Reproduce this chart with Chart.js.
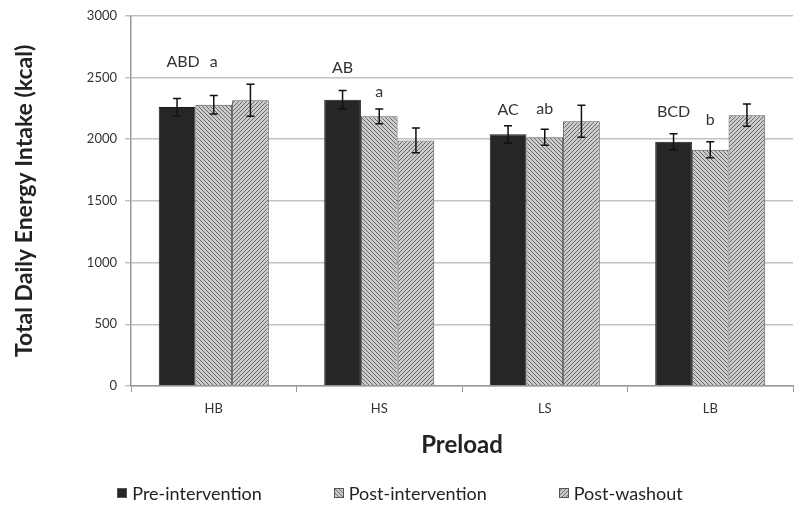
<!DOCTYPE html>
<html><head><meta charset="utf-8">
<script src="https://cdn.jsdelivr.net/npm/chart.js@4/dist/chart.umd.min.js"></script>
<style>
html,body{margin:0;padding:0;background:#fff;}
#wrap{position:relative;width:800px;height:515px;overflow:hidden;}
#legend{position:absolute;left:0;top:482px;width:800px;display:flex;justify-content:center;gap:72px;font-family:Lato,"Open Sans",sans-serif;font-size:18px;color:#222;}
.item{display:flex;align-items:center;white-space:nowrap;}
.item canvas{width:10px;height:10px;margin-right:5px;}
</style>
</head><body>
<div id="wrap">
<canvas id="c" width="800" height="515"></canvas>
<div id="legend"></div>
</div>
<script>
const categories = ['HB', 'HS', 'LS', 'LB'];
const seriesNames = ['Pre-intervention', 'Post-intervention', 'Post-washout'];
const preValues = [2260, 2320, 2040, 1980];
const postValues = [2280, 2185, 2015, 1915];
const washoutValues = [2315, 1990, 2145, 2195];
const preErrors = [70, 75, 70, 65];
const postErrors = [75, 60, 65, 65];
const washoutErrors = [130, 100, 130, 90];
const preLetters = ['ABD', 'AB', 'AC', 'BCD'];
const postLetters = ['a', 'a', 'ab', 'b'];
const preLetterValues = [2625, 2577, 2234, 2218];
const postLetterValues = [2625, 2386, 2250, 2154];
const yMax = 3000;
const yStep = 500;

function makePattern(dir) {
  const s = 4;
  const c = document.createElement('canvas');
  c.width = s; c.height = s;
  const g = c.getContext('2d');
  g.fillStyle = '#cbcbcb';
  g.fillRect(0, 0, s, s);
  g.strokeStyle = '#6a6a6a';
  g.lineWidth = 1;
  g.beginPath();
  if (dir === 'back') {
    g.moveTo(0, 0); g.lineTo(s, s);
    g.moveTo(-1, s - 1); g.lineTo(1, s + 1);
    g.moveTo(s - 1, -1); g.lineTo(s + 1, 1);
  } else {
    g.moveTo(0, s); g.lineTo(s, 0);
    g.moveTo(-1, 1); g.lineTo(1, -1);
    g.moveTo(s - 1, s + 1); g.lineTo(s + 1, s - 1);
  }
  g.stroke();
  return c;
}
const ctx = document.getElementById('c').getContext('2d');
const backPat = ctx.createPattern(makePattern('back'), 'repeat');
const fwdPat = ctx.createPattern(makePattern('fwd'), 'repeat');
const fills = ['#262626', backPat, fwdPat];
const valueSets = [preValues, postValues, washoutValues];
const errorSets = [preErrors, postErrors, washoutErrors];

const annotPlugin = {
  id: 'annot',
  afterDatasetsDraw(chart) {
    const c = chart.ctx;
    const y = chart.scales.y;
    c.save();
    c.strokeStyle = '#111';
    c.lineWidth = 1.5;
    chart.data.datasets.forEach((ds, di) => {
      const meta = chart.getDatasetMeta(di);
      meta.data.forEach((bar, i) => {
        const v = ds.data[i], e = errorSets[di][i];
        const yt = y.getPixelForValue(v + e), yb = y.getPixelForValue(v - e);
        c.beginPath();
        c.moveTo(bar.x, yt); c.lineTo(bar.x, yb);
        c.moveTo(bar.x - 4, yt); c.lineTo(bar.x + 4, yt);
        c.moveTo(bar.x - 4, yb); c.lineTo(bar.x + 4, yb);
        c.stroke();
      });
    });
    c.fillStyle = '#333';
    c.font = '16px Lato, "Open Sans", sans-serif';
    c.textAlign = 'center';
    c.textBaseline = 'middle';
    const m0 = chart.getDatasetMeta(0), m1 = chart.getDatasetMeta(1);
    categories.forEach((cat, i) => {
      c.fillText(preLetters[i], m0.data[i].x + (i === 0 ? 6 : 0), y.getPixelForValue(preLetterValues[i]));
      c.fillText(postLetters[i], m1.data[i].x, y.getPixelForValue(postLetterValues[i]));
    });
    c.restore();
  }
};

new Chart(ctx, {
  type: 'bar',
  data: {
    labels: categories,
    datasets: seriesNames.map((name, k) => ({
      label: name,
      data: valueSets[k],
      backgroundColor: fills[k],
      borderColor: k === 0 ? '#1a1a1a' : '#555',
      borderWidth: 1,
      categoryPercentage: 0.665,
      barPercentage: 1.0
    }))
  },
  options: {
    responsive: false,
    animation: false,
    layout: { padding: { top: 10, right: 7, bottom: 49, left: 0 } },
    plugins: { legend: { display: false }, tooltip: { enabled: false } },
    scales: {
      x: {
        grid: { drawOnChartArea: false, drawTicks: true, tickLength: 6, color: '#999' },
        border: { color: '#999', width: 1.5 },
        ticks: { font: { family: 'Lato', size: 13 }, color: '#333', padding: 9 },
        title: { display: true, text: 'Preload', font: { family: 'Lato', size: 24, weight: 'bold' }, color: '#222', padding: { top: 10, bottom: 6 } },
        afterFit(scale) { scale.height = 80; }
      },
      y: {
        min: 0, max: yMax,
        ticks: { stepSize: yStep, font: { family: 'Lato', size: 13 }, color: '#333', padding: 8, callback: v => String(v) },
        grid: { color: '#c2c2c2', lineWidth: 1.5, tickLength: 6 },
        border: { color: '#999', width: 1.5 },
        title: { display: true, text: 'Total Daily Energy Intake (kcal)', font: { family: 'Lato', size: 23, weight: 'bold' }, color: '#222', padding: { top: 11, bottom: 0 } },
        afterFit(scale) { scale.width = 131; }
      }
    }
  },
  plugins: [annotPlugin]
});

const leg = document.getElementById('legend');
seriesNames.forEach((name, k) => {
  const it = document.createElement('div'); it.className = 'item';
  const sw = document.createElement('canvas'); sw.width = 10; sw.height = 10;
  const g = sw.getContext('2d');
  g.fillStyle = k === 0 ? fills[0] : g.createPattern(makePattern(k === 1 ? 'back' : 'fwd'), 'repeat');
  g.fillRect(0, 0, 10, 10);
  g.strokeStyle = '#555'; g.strokeRect(0.5, 0.5, 9, 9);
  const sp = document.createElement('span'); sp.textContent = name;
  it.appendChild(sw); it.appendChild(sp); leg.appendChild(it);
});
</script>
</body></html>
